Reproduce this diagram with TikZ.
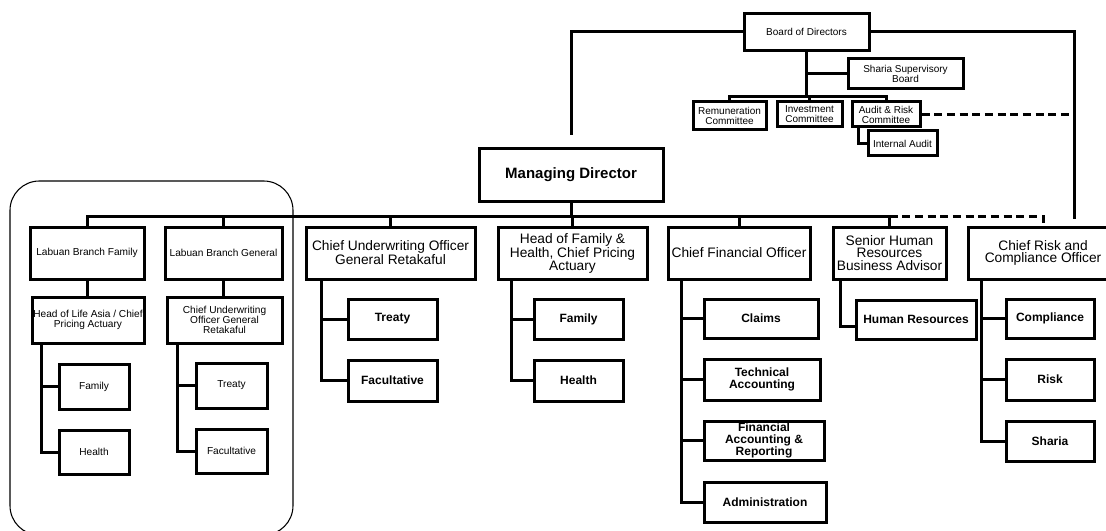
\documentclass[tikz,border=0pt]{standalone}
\usepackage{fontspec}
\setmainfont{Liberation Sans}
\usetikzlibrary{calc}

\tikzset{every picture/.style={line width=2.25pt}}
\tikzset{
  sz/.style 2 args={minimum width=#1*0.75pt,minimum height=#2*0.75pt},
  boardbox/.style={draw,inner sep=0pt,align=center,font=\fontsize{7.5}{7.5}\selectfont},
  headbox/.style={draw,inner sep=0pt,align=center,font=\fontsize{10.3}{9.6}\selectfont},
  unitbox/.style={draw,inner sep=0pt,align=center,font=\fontsize{9}{9.2}\selectfont\bfseries},
  branchbox/.style={draw,inner sep=0pt,align=center,font=\fontsize{7.6}{7.6}\selectfont},
  dashlink/.style={dash pattern=on 6pt off 3.5pt},
}

\begin{document}
\begin{tikzpicture}[x=0.75pt,y=0.75pt,yscale=-1,xscale=1]
\useasboundingbox (0,0) rectangle (1106,531);

%Board level
\node[boardbox,sz={125}{37}] (bod) at (806.5,32) {Board of Directors};
\node[boardbox,sz={115}{30}] (ssb) at (905.5,74) {Sharia Supervisory\\Board};
\node[boardbox,sz={73}{28}] (rem) at (729.5,116) {Remuneration\\Committee};
\node[boardbox,sz={65}{25}] (inv) at (809.5,114.5) {Investment\\Committee};
\node[boardbox,sz={68}{25}] (arc) at (886,114.5) {Audit \& Risk\\Committee};
\node[boardbox,sz={69}{25}] (ia) at (902.5,143.5) {Internal Audit};
\node[draw,inner sep=0pt,font=\fontsize{11.25}{11}\selectfont\bfseries,sz={184}{52}] (md) at (571,175) {Managing Director};

%Heads
\node[headbox,sz={169}{52}] (cuo) at (390.5,253) {Chief Underwriting Officer\\General Retakaful};
\node[headbox,sz={149}{52}] (hof) at (572.5,253) {Head of Family \&\\Health, Chief Pricing\\Actuary};
\node[headbox,sz={142}{52}] (cfo) at (739,253) {Chief Financial Officer};
\node[headbox,sz={113}{52}] (hrba) at (889.5,253) {Senior Human\\Resources\\Business Advisor};
\node[headbox,sz={150}{52}] (cro) at (1043,253) {Chief Risk and\\Compliance Officer};

%Labuan branches
\node[branchbox,sz={114}{52}] (lbf) at (87,253) {Labuan Branch Family};
\node[branchbox,sz={117}{52}] (lbg) at (223.5,253) {Labuan Branch General};
\node[branchbox,sz={112}{46}] (hla) at (88,320) {Head of Life Asia / Chief\\Pricing Actuary};
\node[branchbox,sz={115}{46}] (cuog) at (224.5,320) {Chief Underwriting\\Officer General\\Retakaful};
\node[branchbox,sz={70}{45}] (lfam) at (94,386.5) {Family};
\node[branchbox,sz={70}{44}] (lhea) at (94,452) {Health};
\node[branchbox,sz={71}{45}] (ltre) at (231.5,385.5) {Treaty};
\node[branchbox,sz={71}{44}] (lfac) at (231.5,451) {Facultative};

%Units
\node[unitbox,sz={89}{40}] (trt) at (392.5,319) {Treaty};
\node[unitbox,sz={89}{41}] (fac) at (392.5,380.5) {Facultative};
\node[unitbox,sz={89}{40}] (fam) at (578.5,319) {Family};
\node[unitbox,sz={89}{41}] (hea) at (578.5,380.5) {Health};
\node[unitbox,sz={114}{39}] (clm) at (761,318.5) {Claims};
\node[unitbox,sz={116}{41}] (tac) at (762,379.5) {Technical\\Accounting};
\node[unitbox,sz={120}{39}] (far) at (764,440.5) {Financial\\Accounting \&\\Reporting};
\node[unitbox,sz={122}{40}] (adm) at (765,502) {Administration};
\node[unitbox,sz={120}{39}] (hrs) at (916,319.5) {Human Resources};
\node[unitbox,sz={88}{39}] (cmp) at (1050,318.5) {Compliance};
\node[unitbox,sz={88}{41}] (rsk) at (1050,379.5) {Risk};
\node[unitbox,sz={88}{40}] (sha) at (1050,441) {Sharia};

%Rounded frame round the branches
\draw[line width=0.8pt,rounded corners=22pt] (10,181) rectangle (293,535);

\coordinate (cbus) at (0,97);
\coordinate (bus) at (0,216);
\coordinate (riskline) at (1074,0);

%Board lines
\draw[shorten >=9pt] (bod.west) -| (md.north);
\draw[shorten >=5.25pt] (bod.east) -| (cro.north -| riskline);
\draw (bod.south) -- (bod.south |- cbus);
\draw (ssb.west) -- (ssb.west -| bod.south);
\draw (rem.north) |- (arc.north |- cbus) -- (arc.north);
\draw (inv.north) -- (inv.north |- cbus);
\draw[dashlink] (arc.east) -- (arc.east -| riskline);
\draw ($(arc.south west)+(8,0)$) |- (ia.west);

%Main bus
\draw (md.south) -- (md.south |- bus);
\draw (lbf.north) |- (hrba.north |- bus) -- (hrba.north);
\draw[dashlink] (hrba.north |- bus) -| (cro.north);
\draw (lbg.north) -- (lbg.north |- bus);
\draw (cuo.north) -- (cuo.north |- bus);
\draw (hof.north) -- (hof.north |- bus);
\draw (cfo.north) -- (cfo.north |- bus);

%Labuan lines
\draw (lbf.south) -- (lbf.south |- hla.north);
\draw (lbg.south) -- (lbg.south |- cuog.north);
\draw ($(hla.south west)+(11,0)$) |- (lhea.west);
\draw (lfam.west) -- ++(-16,0);
\draw ($(cuog.south west)+(12,0)$) |- (lfac.west);
\draw (ltre.west) -- ++(-17,0);

%Unit lines
\draw ($(cuo.south west)+(17,0)$) |- (fac.west);
\draw (trt.west) -- ++(-25,0);
\draw ($(hof.south west)+(15,0)$) |- (hea.west);
\draw (fam.west) -- ++(-21,0);
\draw ($(cfo.south west)+(15,0)$) |- (adm.west);
\draw (clm.west) -- ++(-21,0);
\draw (tac.west) -- ++(-21,0);
\draw (far.west) -- ++(-21,0);
\draw ($(hrba.south west)+(9,0)$) |- ($(hrs.west)+(0,6.5)$);
\draw ($(cro.south west)+(15,0)$) |- (sha.west);
\draw (cmp.west) -- ++(-23,0);
\draw (rsk.west) -- ++(-23,0);

\end{tikzpicture}
\end{document}
